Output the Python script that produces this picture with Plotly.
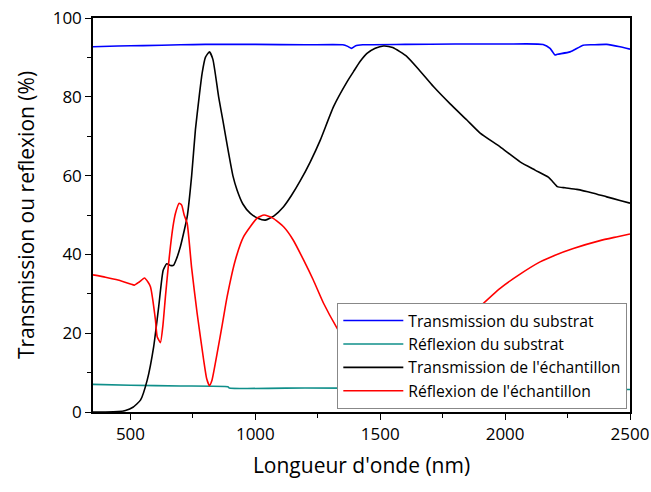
import plotly.graph_objects as go

# Transmission du substrat
blue_x = [350, 450, 550, 700, 800, 1000, 1200, 1350, 1370, 1385, 1400, 1430, 1600, 1800, 2000, 2152, 2180, 2200, 2210, 2260, 2313, 2350, 2407, 2460, 2500]
blue_y = [92.7, 92.9, 93.0, 93.2, 93.3, 93.3, 93.2, 93.2, 92.8, 92.3, 92.9, 93.2, 93.3, 93.4, 93.4, 93.3, 92.3, 90.6, 90.8, 91.4, 93.1, 93.2, 93.3, 92.7, 92.1]

# Réflexion du substrat
teal_x = [350, 500, 700, 890, 895, 1200, 1500, 2000, 2500]
teal_y = [7.0, 6.8, 6.6, 6.4, 6.1, 6.1, 6.0, 5.9, 5.7]

# Transmission de l'échantillon
black_x = [350, 400, 450, 480, 510, 540, 567, 593, 613, 631, 645, 660, 672, 685, 700, 715, 727, 745, 760, 775, 787, 800, 816, 830, 853, 870, 893, 910, 927, 950, 980, 1010, 1040, 1075, 1113, 1145, 1180, 1220, 1260, 1313, 1367, 1393, 1420, 1447, 1480, 1513, 1550, 1607, 1660, 1713, 1780, 1847, 1900, 1980, 2060, 2120, 2173, 2190, 2209, 2240, 2287, 2350, 2407, 2460, 2500]
black_y = [0.0, 0.0, 0.1, 0.4, 1.2, 3.0, 8.1, 16.6, 26.7, 36.0, 37.6, 37.2, 37.2, 39.0, 42.0, 46.0, 49.5, 60.0, 71.6, 80.0, 86.0, 90.0, 91.4, 89.5, 80.0, 74.0, 65.7, 60.0, 56.3, 52.8, 50.4, 49.2, 48.7, 49.8, 52.1, 55.0, 58.7, 63.5, 69.0, 77.5, 83.8, 86.4, 89.0, 91.0, 92.3, 92.9, 92.5, 90.2, 86.5, 82.6, 78.2, 74.1, 70.8, 67.3, 63.5, 61.4, 59.6, 58.5, 57.2, 56.9, 56.5, 55.6, 54.6, 53.7, 53.0]

# Réflexion de l'échantillon
red_x = [350, 400, 450, 500, 515, 535, 556, 570, 580, 600, 607, 620, 630, 640, 650, 660, 670, 680, 695, 705, 715, 727, 745, 767, 793, 805, 816, 826, 847, 867, 887, 920, 953, 1007, 1035, 1070, 1113, 1152, 1193, 1232, 1273, 1327, 1380, 1450, 1500, 1550, 1600, 1700, 1800, 1891, 1980, 2060, 2140, 2200, 2273, 2380, 2450, 2500]
red_y = [34.8, 34.2, 33.5, 32.5, 32.2, 33.0, 34.0, 33.0, 31.8, 23.4, 19.1, 17.6, 22.0, 29.3, 36.0, 42.0, 47.0, 50.4, 53.0, 52.5, 50.0, 47.9, 36.5, 25.0, 13.2, 8.5, 6.7, 8.0, 14.9, 22.0, 29.3, 38.6, 44.5, 49.2, 50.0, 49.2, 47.0, 43.6, 38.6, 33.5, 27.6, 21.3, 16.0, 12.0, 10.8, 10.8, 11.8, 15.5, 20.8, 26.3, 31.4, 35.0, 38.1, 39.8, 41.5, 43.5, 44.5, 45.2]

names = ["Transmission du substrat", "Réflexion du substrat",
         "Transmission de l'échantillon", "Réflexion de l'échantillon"]
colors = ["#0000ff", "#0f8f8a", "#000000", "#ff0000"]

fig = go.Figure()
for xs, ys, nm, c in [(blue_x, blue_y, names[0], colors[0]),
                      (teal_x, teal_y, names[1], colors[1]),
                      (black_x, black_y, names[2], colors[2]),
                      (red_x, red_y, names[3], colors[3])]:
    fig.add_trace(go.Scatter(x=xs, y=ys, mode="lines", name=nm,
                             line=dict(color=c, width=1.6, shape="spline", smoothing=0.5)))

axis_common = dict(showline=True, linecolor="black", linewidth=1.5, mirror=True,
                   ticks="outside", ticklen=6, tickwidth=1.2, tickcolor="black",
                   showgrid=False, zeroline=False, automargin=False,
                   ticklabeloverflow="allow",
                   tickfont=dict(family="Open Sans", size=17, color="black"))

fig.update_xaxes(range=[350, 2500], tickvals=[500, 1000, 1500, 2000, 2500],
                 minor=dict(tickvals=[750, 1250, 1750, 2250], ticklen=4, ticks="outside", tickcolor="black", tickwidth=1.2),
                 title=dict(text="Longueur d'onde (nm)", font=dict(family="Open Sans", size=21, color="black"), standoff=14),
                 **axis_common)
fig.update_yaxes(range=[0, 100], tickvals=[0, 20, 40, 60, 80, 100],
                 minor=dict(tickvals=[10, 30, 50, 70, 90], ticklen=4, ticks="outside", tickcolor="black", tickwidth=1.2),
                 title=dict(text="Transmission ou reflexion (%)", font=dict(family="Open Sans", size=21, color="black"), standoff=12),
                 **axis_common)

fig.update_layout(
    width=651, height=492,
    margin=dict(l=93, r=21, t=18, b=80),
    paper_bgcolor="white", plot_bgcolor="white",
    font=dict(family="Open Sans", color="black"),
    legend=dict(x=0.995, xanchor="right", y=0.008, yanchor="bottom",
                bgcolor="white", bordercolor="#888888", borderwidth=1,
                font=dict(family="Open Sans", size=15.7, color="black"),
                itemwidth=60, tracegroupgap=0),
    showlegend=True,
)

fig.write_html("out.html", config={"displayModeBar": False},
               post_script="document.body.style.margin='0px';")
